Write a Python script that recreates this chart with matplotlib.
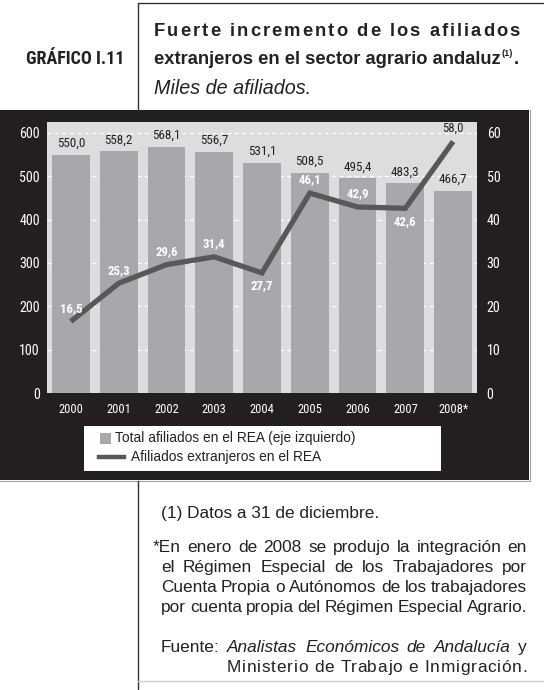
import matplotlib
matplotlib.use("Agg")
import matplotlib.pyplot as plt
from matplotlib import font_manager
from matplotlib.patches import Rectangle
from matplotlib.lines import Line2D
import numpy as np

# datos (miles de afiliados)
years = ["2000", "2001", "2002", "2003", "2004", "2005", "2006", "2007", "2008*"]
total_rea = [550.0, 558.2, 568.1, 556.7, 531.1, 508.5, 495.4, 483.3, 466.7]
extranjeros = [16.5, 25.3, 29.6, 31.4, 27.7, 46.1, 42.9, 42.6, 58.0]
# posicion de la etiqueta de la linea: 1 encima, -1 debajo
label_side = [1, 1, 1, 1, -1, 1, 1, -1, 1]

# fuente estrecha si existe, si no Liberation Sans
installed = {f.name for f in font_manager.fontManager.ttflist}
narrow_name = next((n for n in ["Liberation Sans Narrow", "Arial Narrow",
                                "DejaVu Sans Condensed", "Roboto Condensed",
                                "Noto Sans Condensed"] if n in installed),
                   "Liberation Sans")
has_narrow = narrow_name != "Liberation Sans"
NARROW = [narrow_name, "DejaVu Sans"]
SANS = ["Liberation Sans", "DejaVu Sans"]
NS = 1.15 if has_narrow else 1.0   # escala de tamano para la estrecha

BLACK = "#231f20"
BAR = "#a7a8ab"
BG = "#dcdddf"
LINE = "#58585a"
INK = "#222222"

W, H = 544, 690
fig = plt.figure(figsize=(W / 100, H / 100), dpi=100)
fig.patch.set_facecolor("white")

# capa de decoracion en pixeles
deco = fig.add_axes([0, 0, 1, 1])
deco.set_xlim(0, W)
deco.set_ylim(H, 0)
deco.axis("off")
renderer = fig.canvas.get_renderer()


def width_of(s, **kw):
    t = deco.text(0, 0, s, **kw)
    w = t.get_window_extent(renderer).width
    t.remove()
    return w


def spread_words(words, x0, x1, y, **kw):
    # words: lista de (texto, estilo)
    widths = [width_of(w, fontstyle=st, **kw) for w, st in words]
    gap = (x1 - x0 - sum(widths)) / (len(words) - 1)
    x = x0
    for (w, st), wd in zip(words, widths):
        deco.text(x, y, w, fontstyle=st, ha="left", va="baseline", **kw)
        x += wd + gap


def justify(line, x0, x1, y, **kw):
    spread_words([(w, "normal") for w in line.split()], x0, x1, y, **kw)


def spread_chars(s, x0, x1, y, **kw):
    natural = width_of(s, **kw)
    extra = (x1 - x0 - natural) / (len(s) - 1)
    for i, ch in enumerate(s):
        if ch == " ":
            continue
        px = width_of(s[:i], **kw) if i > 0 else 0
        deco.text(x0 + px + i * extra, y, ch, ha="left", va="baseline", **kw)


# panel negro
deco.add_patch(Rectangle((0, 110), 529, 370, facecolor=BLACK, edgecolor="none"))
deco.plot([0, 530, 530], [481, 481, 110], color="#a0a0a0", lw=0.8)
# marcos del titulo y notas
deco.plot([137.5, 137.5, 544], [110, 2.5, 2.5], color="#333333", lw=1.0)
deco.plot([137.5, 137.5], [481, 690], color="#333333", lw=1.0)
deco.plot([138, 544], [681, 681], color="#cfcfcf", lw=1.0)

# titulo
deco.text(124, 64, "GRÁFICO I.11", family=NARROW, fontweight="bold",
          fontsize=13 if has_narrow else 11, color=INK,
          ha="right", va="baseline")
tkw = dict(family=SANS, fontweight="bold", fontsize=13.2, color=INK)
spread_chars("Fuerte incremento de los afiliados", 154, 520, 36, **tkw)
line2 = "extranjeros en el sector agrario andaluz"
deco.text(154, 64, line2, ha="left", va="baseline", **tkw)
w2 = width_of(line2, **tkw)
deco.text(154 + w2 + 1, 56, "(1)", ha="left", va="baseline",
          family=SANS, fontweight="bold", fontsize=6.5, color=INK)
deco.text(154 + w2 + 13, 64, ".", ha="left", va="baseline", **tkw)
deco.text(154, 94, "Miles de afiliados.", family=SANS, fontstyle="italic",
          fontsize=14.2, color=INK, ha="left", va="baseline")

# grafico
ax = fig.add_axes([47 / W, 1 - 393 / H, 430 / W, 271 / H])
ax.set_facecolor(BG)
x = np.arange(len(years))
ax.bar(x, total_rea, width=0.79, color=BAR, zorder=2)
ax.set_xlim(-0.5, len(years) - 0.5)
ax.set_ylim(0, 625)
ax.set_yticks(range(0, 601, 100))
ax.set_xticks(x)
ax.set_xticklabels(years)
ax.grid(axis="y", color="white", linestyle=(0, (3, 3)), lw=0.9, zorder=1)
for s in ax.spines.values():
    s.set_visible(False)
ax.tick_params(length=0, colors="white", labelsize=8.8 * NS, pad=5)
ax.tick_params(axis="x", labelsize=7.8 * NS, pad=7)
for lab in ax.get_xticklabels() + ax.get_yticklabels():
    lab.set_family(NARROW)

for xi, v in zip(x, total_rea):
    ax.annotate(f"{v:.1f}".replace(".", ","), (xi, v), xytext=(0, 8),
                textcoords="offset points", ha="center", va="center",
                fontsize=8.2 * NS, family=NARROW, color=INK, zorder=5)

ax2 = ax.twinx()
ax2.set_ylim(0, 62.5)
ax2.set_yticks(range(0, 61, 10))
for s in ax2.spines.values():
    s.set_visible(False)
ax2.tick_params(length=0, colors="white", labelsize=8.8 * NS, pad=7)
for lab in ax2.get_yticklabels():
    lab.set_family(NARROW)
ax2.plot(x, extranjeros, color=LINE, lw=3.8, solid_capstyle="butt",
         solid_joinstyle="miter", zorder=4)
for i, (xi, v) in enumerate(zip(x, extranjeros)):
    last = i == len(x) - 1
    ax2.annotate(f"{v:.1f}".replace(".", ","), (xi, v),
                 xytext=(0, 9.5 * label_side[i]), textcoords="offset points",
                 ha="center", va="center", fontsize=8.0 * NS, family=NARROW,
                 fontweight="normal" if last else "bold",
                 color=INK if last else "white", zorder=5)

# leyenda
deco.add_patch(Rectangle((84, 426), 357, 45, facecolor="white",
                         edgecolor="none", zorder=3))
deco.add_patch(Rectangle((100, 433), 11, 10.5, facecolor=BAR, edgecolor="none",
                         zorder=4))
deco.add_line(Line2D([99, 124], [457, 457], color=LINE, lw=3.2, zorder=4))
lkw = dict(family=SANS, fontsize=9.9, color=INK, va="center",
           ha="left", zorder=5)
deco.text(115, 438, "Total afiliados en el REA (eje izquierdo)", **lkw)
deco.text(131, 457, "Afiliados extranjeros en el REA", **lkw)

# notas
nkw = dict(family=SANS, fontsize=12.4, color=INK)
deco.text(161, 518, "(1) Datos a 31 de diciembre.", ha="left",
          va="baseline", **nkw)
notes = ["*En enero de 2008 se produjo la integración en",
         "el Régimen Especial de los Trabajadores por",
         "Cuenta Propia o Autónomos de los trabajadores",
         "por cuenta propia del Régimen Especial Agrario."]
for k, ln in enumerate(notes):
    justify(ln, 153 if k == 0 else 161, 527, 552 + k * 20, **nkw)
spread_words([("Fuente:", "normal"), ("Analistas", "italic"),
              ("Económicos", "italic"), ("de", "italic"),
              ("Andalucía", "italic"), ("y", "normal")],
             161, 527, 652, **nkw)
spread_chars("Ministerio de Trabajo e Inmigración.", 227, 527, 672, **nkw)

fig.savefig("out.png", dpi=100, facecolor=fig.get_facecolor())
